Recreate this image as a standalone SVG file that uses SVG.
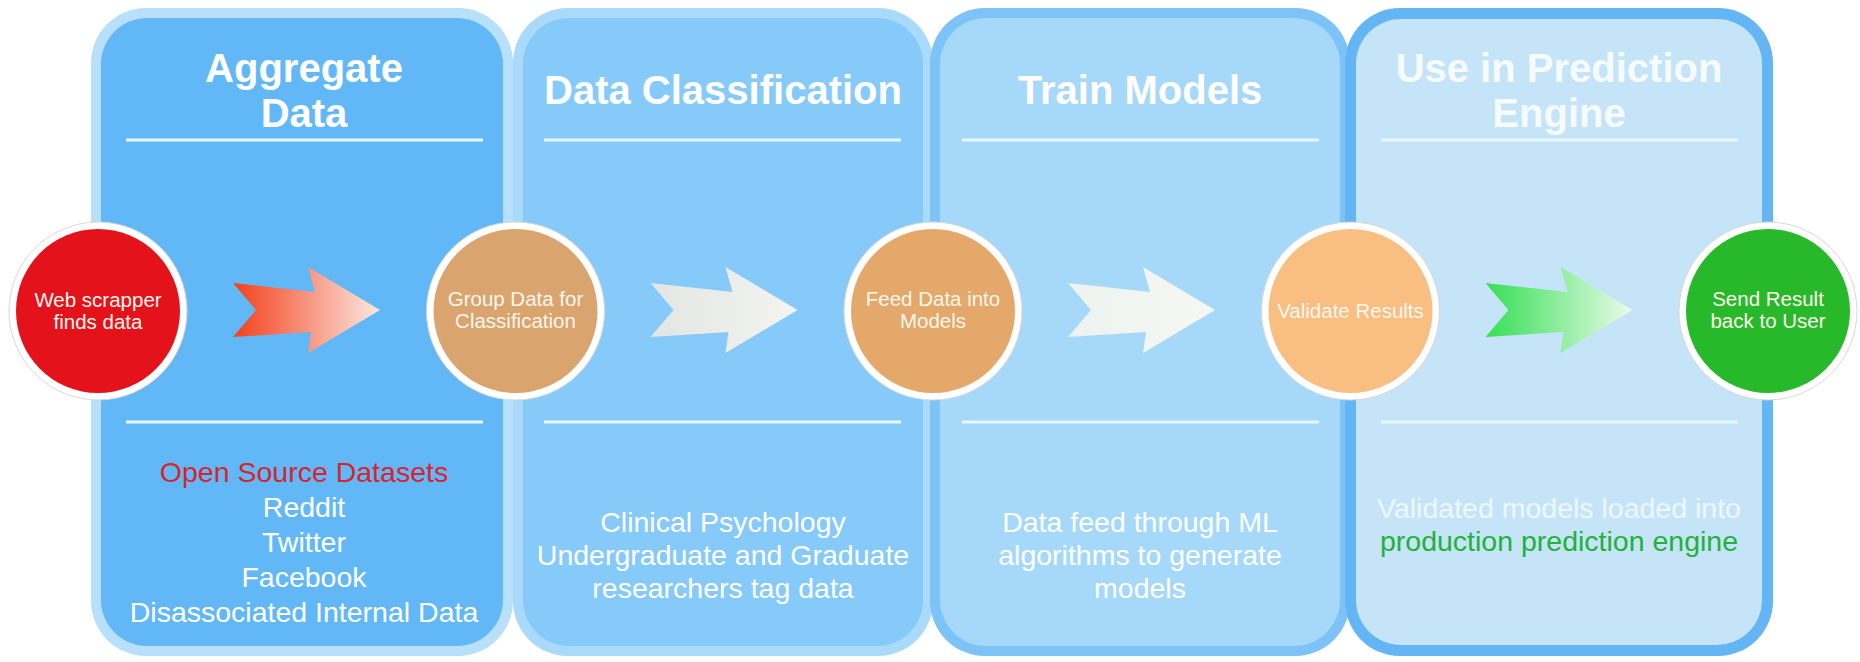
<svg xmlns="http://www.w3.org/2000/svg" width="1860" height="662" viewBox="0 0 1860 662">
<defs>
<style>
.title{font-family:"Liberation Sans",Arial,sans-serif;font-weight:bold;font-size:40px;fill:#ffffff;text-anchor:middle}
.body{font-family:"Liberation Sans",Arial,sans-serif;font-size:28.5px;fill:#ffffff;text-anchor:middle}
.ctext{font-family:"Liberation Sans",Arial,sans-serif;font-size:20.5px;fill:#fdf7ee;text-anchor:middle}
.sep{stroke:#eaf5fe;stroke-width:3}
.ring{fill:#ffffff;stroke:#d8d8d8;stroke-width:1}
</style>
<linearGradient id="gRed" x1="0" y1="0" x2="1" y2="0">
<stop offset="0" stop-color="#f2401c"/><stop offset="1" stop-color="#fde8e2"/>
</linearGradient>
<linearGradient id="gGray" x1="0" y1="0" x2="1" y2="0">
<stop offset="0" stop-color="#e2e6e3"/><stop offset="1" stop-color="#f4f4f1"/>
</linearGradient>
<linearGradient id="gWhite" x1="0" y1="0" x2="1" y2="0">
<stop offset="0" stop-color="#eef3ef"/><stop offset="1" stop-color="#f6f7f3"/>
</linearGradient>
<linearGradient id="gGreen" x1="0" y1="0" x2="1" y2="0">
<stop offset="0" stop-color="#36df55"/><stop offset="1" stop-color="#eafbe9"/>
</linearGradient>
<path id="arrowShape" d="M0,-27 L82,-18 L75,-43 L147,0 L75,43 L78,22 L0,27 L23,0 Z"/>
</defs>

<g id="panel-aggregate">
<rect x="91" y="8" width="422" height="648" rx="55" fill="#b9e0fb"/>
<rect x="101" y="18" width="402" height="628" rx="46" fill="#62b8f7"/>
<text class="title" x="304" y="82">Aggregate</text>
<text class="title" x="304" y="127">Data</text>
<line class="sep" x1="126" y1="140" x2="483" y2="140"/>
<line class="sep" x1="126" y1="422" x2="483" y2="422"/>
<text class="body" x="304" y="482" fill="#d8242c" style="fill:#d8242c">Open Source Datasets</text>
<text class="body" x="304" y="517">Reddit</text>
<text class="body" x="304" y="552">Twitter</text>
<text class="body" x="304" y="587">Facebook</text>
<text class="body" x="304" y="622">Disassociated Internal Data</text>
</g>

<g id="panel-classification">
<rect x="513" y="8" width="420" height="648" rx="55" fill="#a9d9fb"/>
<rect x="523" y="18" width="400" height="628" rx="46" fill="#86cafa"/>
<text class="title" x="723" y="104">Data Classification</text>
<line class="sep" x1="544" y1="140" x2="901" y2="140"/>
<line class="sep" x1="544" y1="422" x2="901" y2="422"/>
<text class="body" x="723" y="532">Clinical Psychology</text>
<text class="body" x="723" y="565">Undergraduate and Graduate</text>
<text class="body" x="723" y="598">researchers tag data</text>
</g>

<g id="panel-train">
<rect x="930" y="8" width="420" height="648" rx="55" fill="#7dc3f7"/>
<rect x="940" y="18" width="400" height="628" rx="46" fill="#a6d8f9"/>
<text class="title" x="1140" y="104">Train Models</text>
<line class="sep" x1="962" y1="140" x2="1319" y2="140"/>
<line class="sep" x1="962" y1="422" x2="1319" y2="422"/>
<text class="body" x="1140" y="532">Data feed through ML</text>
<text class="body" x="1140" y="565">algorithms to generate</text>
<text class="body" x="1140" y="598">models</text>
</g>

<g id="panel-predict">
<rect x="1345" y="8" width="428" height="648" rx="55" fill="#63b5f4"/>
<rect x="1356" y="19" width="406" height="626" rx="45" fill="#c6e4f8"/>
<text class="title" x="1559" y="82" style="fill:#f6fbff">Use in Prediction</text>
<text class="title" x="1559" y="127" style="fill:#f6fbff">Engine</text>
<line class="sep" x1="1381" y1="140" x2="1738" y2="140"/>
<line class="sep" x1="1381" y1="422" x2="1738" y2="422"/>
<text class="body" x="1559" y="518" style="fill:#eef7fd">Validated models loaded into</text>
<text class="body" x="1559" y="551" style="fill:#22b23a">production prediction engine</text>
</g>

<g id="connectors">
<use href="#arrowShape" transform="translate(233,310)" fill="url(#gRed)"/>
<use href="#arrowShape" transform="translate(650.5,310)" fill="url(#gGray)"/>
<use href="#arrowShape" transform="translate(1068,310)" fill="url(#gWhite)"/>
<use href="#arrowShape" transform="translate(1485.5,310)" fill="url(#gGreen)"/>
</g>

<g id="node-web-scrapper">
<circle class="ring" cx="98" cy="311" r="89"/>
<circle cx="98" cy="311" r="82" fill="#e4121a"/>
<text class="ctext" x="98" y="307">Web scrapper</text>
<text class="ctext" x="98" y="329">finds data</text>
</g>

<g id="node-group-data">
<circle class="ring" cx="515.5" cy="311" r="89"/>
<circle cx="515.5" cy="311" r="82" fill="#d9a46e"/>
<text class="ctext" x="515.5" y="306">Group Data for</text>
<text class="ctext" x="515.5" y="328">Classification</text>
</g>

<g id="node-feed-data">
<circle class="ring" cx="933" cy="311" r="89"/>
<circle cx="933" cy="311" r="82" fill="#e4a86a"/>
<text class="ctext" x="933" y="306">Feed Data into</text>
<text class="ctext" x="933" y="328">Models</text>
</g>

<g id="node-validate">
<circle class="ring" cx="1350.5" cy="311" r="89"/>
<circle cx="1350.5" cy="311" r="82" fill="#f8be82"/>
<text class="ctext" x="1350.5" y="318">Validate Results</text>
</g>

<g id="node-send-result">
<circle class="ring" cx="1768" cy="311" r="89"/>
<circle cx="1768" cy="311" r="82" fill="#28b92b"/>
<text class="ctext" x="1768" y="306">Send Result</text>
<text class="ctext" x="1768" y="328">back to User</text>
</g>
</svg>
